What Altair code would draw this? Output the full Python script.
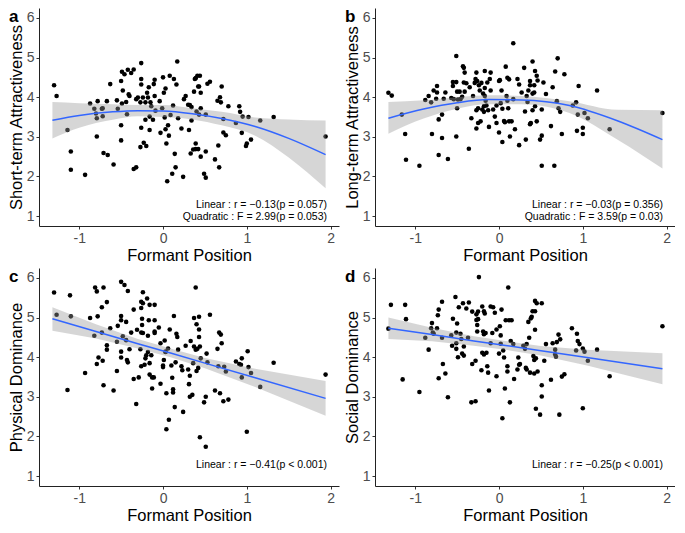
import altair as alt
import pandas as pd

FONT = "Liberation Sans"
W, H = 300, 218
XDOM = [-1.48, 2.10]
YDOM = [0.75, 6.25]
X_TICKS = [-1, 0, 1, 2]
Y_TICKS = [1, 2, 3, 4, 5, 6]
X_TITLE = "Formant Position"

# ---------- panel a : Short-term Attractiveness (x, y) ----------
a_points = [
    (-1.30, 4.30), (-1.27, 4.03), (-1.14, 3.17), (-1.10, 2.63), (-1.10, 2.17), (-0.93, 2.04),
    (-0.87, 3.84), (-0.82, 3.71), (-0.78, 3.90), (-0.80, 3.59), (-0.79, 3.47), (-0.79, 3.01),
    (-0.73, 3.71), (-0.72, 3.52), (-0.72, 3.72), (-0.71, 2.59), (-0.67, 3.90), (-0.66, 2.54),
    (-0.63, 4.33), (-0.59, 2.30), (-0.55, 3.92), (-0.54, 3.71), (-0.50, 4.41), (-0.49, 4.64),
    (-0.48, 4.17), (-0.49, 3.84), (-0.50, 3.29), (-0.50, 2.91), (-0.46, 4.58), (-0.44, 3.88),
    (-0.43, 3.57), (-0.42, 4.69), (-0.41, 4.07), (-0.40, 4.03), (-0.38, 4.61), (-0.35, 4.70),
    (-0.35, 2.19), (-0.32, 2.23), (-0.32, 3.95), (-0.30, 3.99), (-0.27, 3.87), (-0.26, 4.86),
    (-0.26, 4.46), (-0.26, 4.32), (-0.26, 3.23), (-0.27, 2.74), (-0.24, 3.99), (-0.23, 2.85),
    (-0.21, 3.87), (-0.21, 3.43), (-0.20, 2.77), (-0.19, 4.11), (-0.18, 3.99), (-0.17, 4.25),
    (-0.16, 3.51), (-0.16, 3.17), (-0.15, 3.87), (-0.14, 3.77), (-0.12, 3.43), (-0.11, 4.33),
    (-0.10, 4.44), (-0.10, 4.03), (-0.09, 3.66), (-0.04, 3.90), (-0.03, 3.10), (-0.01, 3.72),
    (0.00, 4.50), (0.01, 4.11), (0.02, 3.49), (0.03, 3.19), (0.03, 4.22), (0.04, 2.83),
    (0.05, 1.88), (0.06, 3.29), (0.07, 3.03), (0.08, 4.54), (0.09, 3.55), (0.12, 3.79),
    (0.13, 4.46), (0.11, 2.07), (0.14, 2.57), (0.15, 2.23), (0.16, 4.32), (0.17, 4.90),
    (0.18, 3.47), (0.22, 3.21), (0.24, 1.99), (0.25, 3.95), (0.27, 4.03), (0.30, 3.81),
    (0.31, 3.17), (0.32, 3.80), (0.33, 2.58), (0.34, 3.75), (0.34, 3.41), (0.36, 2.68),
    (0.37, 4.14), (0.38, 4.46), (0.39, 4.48), (0.39, 2.83), (0.39, 2.69), (0.40, 3.64),
    (0.41, 4.54), (0.42, 4.27), (0.42, 2.69), (0.44, 4.54), (0.43, 4.27), (0.43, 3.56),
    (0.45, 2.50), (0.45, 4.11), (0.45, 3.72), (0.49, 2.07), (0.51, 3.56), (0.51, 2.63),
    (0.51, 1.97), (0.53, 4.34), (0.56, 4.39), (0.62, 2.43), (0.65, 3.91), (0.66, 2.78),
    (0.67, 2.23), (0.68, 4.00), (0.69, 3.87), (0.70, 4.27), (0.72, 3.11), (0.72, 3.45),
    (0.75, 3.04), (0.78, 3.77), (0.87, 3.35), (0.91, 3.77), (0.92, 3.63), (0.94, 3.10),
    (0.95, 3.51), (0.99, 2.77), (1.00, 2.83), (1.02, 3.50), (1.05, 2.93), (1.16, 3.41),
    (1.32, 3.50), (1.94, 3.01),
]

# ---------- panel b : Long-term Attractiveness ----------
b_points = [
    (-1.32, 4.11), (-1.28, 4.04), (-1.16, 3.56), (-1.12, 3.07), (-1.11, 2.42), (-0.95, 2.27),
    (-0.88, 3.93), (-0.84, 4.03), (-0.81, 3.87), (-0.80, 3.07), (-0.78, 4.17), (-0.75, 3.96),
    (-0.74, 4.28), (-0.74, 4.12), (-0.72, 3.44), (-0.72, 2.54), (-0.68, 3.56), (-0.68, 2.97),
    (-0.66, 3.96), (-0.64, 4.12), (-0.61, 2.44), (-0.57, 3.98), (-0.55, 4.38), (-0.55, 4.28),
    (-0.54, 3.95), (-0.51, 5.04), (-0.51, 4.38), (-0.51, 3.01), (-0.50, 4.14), (-0.50, 3.72),
    (-0.49, 3.94), (-0.47, 4.14), (-0.46, 3.95), (-0.44, 4.01), (-0.43, 4.78), (-0.42, 4.74),
    (-0.42, 4.37), (-0.41, 4.62), (-0.41, 4.14), (-0.39, 4.35), (-0.36, 2.70), (-0.35, 4.25),
    (-0.33, 3.47), (-0.31, 4.03), (-0.29, 4.36), (-0.28, 4.46), (-0.27, 4.62), (-0.27, 3.67),
    (-0.27, 3.21), (-0.26, 4.41), (-0.25, 3.72), (-0.25, 3.35), (-0.24, 4.30), (-0.23, 4.17),
    (-0.22, 3.39), (-0.21, 4.36), (-0.20, 3.69), (-0.19, 4.09), (-0.18, 3.77), (-0.18, 3.63),
    (-0.17, 4.66), (-0.17, 4.23), (-0.17, 4.03), (-0.16, 3.91), (-0.15, 3.79), (-0.14, 4.37),
    (-0.13, 3.67), (-0.12, 3.25), (-0.11, 4.46), (-0.10, 4.62), (-0.10, 4.17), (-0.07, 3.69),
    (-0.05, 3.51), (-0.03, 3.35), (-0.03, 3.79), (0.00, 4.41), (0.00, 3.11), (0.01, 4.43),
    (0.02, 3.85), (0.03, 4.17), (0.04, 3.71), (0.04, 2.87), (0.06, 3.40), (0.07, 3.37),
    (0.08, 4.77), (0.09, 4.03), (0.10, 3.91), (0.10, 4.49), (0.11, 3.72), (0.12, 3.39),
    (0.12, 4.45), (0.13, 3.01), (0.15, 3.39), (0.17, 5.36), (0.17, 3.95), (0.19, 3.19),
    (0.22, 4.46), (0.24, 4.32), (0.24, 2.79), (0.27, 4.12), (0.30, 4.74), (0.31, 3.64),
    (0.32, 2.93), (0.33, 4.03), (0.34, 3.88), (0.35, 4.17), (0.37, 4.41), (0.37, 3.32),
    (0.37, 4.30), (0.38, 3.35), (0.40, 3.67), (0.40, 4.09), (0.40, 4.90), (0.42, 4.30),
    (0.42, 4.12), (0.43, 3.77), (0.43, 4.66), (0.45, 3.39), (0.45, 4.54), (0.46, 4.42),
    (0.49, 2.93), (0.51, 2.27), (0.51, 3.69), (0.51, 3.03), (0.53, 4.37), (0.56, 4.08),
    (0.62, 3.27), (0.64, 4.25), (0.66, 2.27), (0.67, 4.65), (0.69, 3.90), (0.70, 4.98),
    (0.71, 3.72), (0.73, 3.63), (0.75, 3.07), (0.78, 4.58), (0.88, 3.79), (0.92, 3.87),
    (0.93, 3.15), (0.95, 4.28), (0.94, 3.56), (1.00, 3.07), (1.00, 3.23), (1.02, 3.60),
    (1.06, 3.47), (1.17, 4.17), (1.32, 3.19), (1.95, 3.60),
]

# ---------- panel c : Physical Dominance ----------
c_points = [
    (-1.30, 5.63), (-1.27, 5.07), (-1.14, 3.17), (-1.11, 5.56), (-1.10, 5.03), (-0.93, 3.60),
    (-0.87, 4.99), (-0.82, 4.54), (-0.81, 5.76), (-0.79, 5.66), (-0.78, 5.03), (-0.79, 3.83),
    (-0.77, 3.99), (-0.73, 5.26), (-0.73, 4.62), (-0.72, 3.91), (-0.71, 5.76), (-0.71, 3.29),
    (-0.67, 5.39), (-0.67, 4.30), (-0.67, 4.19), (-0.63, 4.73), (-0.59, 3.16), (-0.55, 3.65),
    (-0.55, 4.39), (-0.54, 4.79), (-0.50, 5.90), (-0.50, 5.04), (-0.50, 4.93), (-0.50, 4.14),
    (-0.50, 3.99), (-0.48, 4.53), (-0.46, 5.82), (-0.44, 4.89), (-0.44, 4.43), (-0.43, 3.93),
    (-0.42, 5.67), (-0.42, 3.87), (-0.40, 4.20), (-0.38, 4.62), (-0.35, 5.20), (-0.35, 3.45),
    (-0.32, 2.82), (-0.31, 4.69), (-0.29, 3.49), (-0.27, 4.20), (-0.26, 5.40), (-0.26, 5.24),
    (-0.26, 4.62), (-0.26, 3.77), (-0.25, 4.97), (-0.25, 4.81), (-0.24, 5.64), (-0.24, 5.36),
    (-0.24, 4.61), (-0.22, 3.81), (-0.21, 3.97), (-0.20, 4.05), (-0.19, 5.48), (-0.18, 4.13),
    (-0.18, 4.54), (-0.17, 4.93), (-0.16, 5.32), (-0.16, 3.56), (-0.16, 3.85), (-0.14, 4.05),
    (-0.13, 3.49), (-0.13, 3.21), (-0.11, 3.49), (-0.10, 4.65), (-0.10, 4.93), (-0.10, 5.32),
    (-0.10, 4.61), (-0.05, 4.75), (-0.03, 3.33), (-0.03, 4.35), (0.00, 3.79), (0.00, 3.75),
    (0.01, 3.93), (0.02, 4.42), (0.03, 4.14), (0.03, 4.13), (0.04, 2.18), (0.04, 3.09),
    (0.06, 4.22), (0.07, 2.42), (0.08, 4.70), (0.10, 3.79), (0.11, 3.48), (0.12, 3.19),
    (0.12, 3.11), (0.13, 5.04), (0.14, 2.74), (0.15, 3.87), (0.16, 4.59), (0.17, 4.51),
    (0.18, 4.19), (0.22, 3.77), (0.23, 3.67), (0.24, 2.62), (0.27, 4.29), (0.30, 3.69),
    (0.31, 3.32), (0.32, 3.53), (0.32, 3.00), (0.33, 4.41), (0.35, 3.05), (0.36, 3.85),
    (0.37, 4.99), (0.37, 4.27), (0.39, 4.19), (0.39, 5.76), (0.40, 4.83), (0.40, 3.65),
    (0.41, 4.21), (0.42, 3.73), (0.43, 4.70), (0.43, 5.02), (0.43, 4.51), (0.44, 4.27),
    (0.44, 1.98), (0.45, 3.97), (0.49, 2.86), (0.51, 3.00), (0.51, 1.74), (0.52, 4.09),
    (0.53, 3.87), (0.56, 5.07), (0.62, 3.16), (0.65, 4.21), (0.66, 3.77), (0.67, 4.62),
    (0.68, 3.09), (0.69, 4.57), (0.70, 4.35), (0.72, 2.89), (0.73, 3.76), (0.75, 3.64),
    (0.78, 2.93), (0.87, 3.89), (0.91, 3.83), (0.93, 3.81), (0.94, 3.97), (0.94, 3.49),
    (1.00, 2.12), (1.01, 4.15), (1.02, 3.75), (1.05, 3.60), (1.16, 3.25), (1.32, 3.86),
    (1.94, 3.56),
]

# ---------- panel d : Social Dominance ----------
d_points = [
    (-1.32, 4.72), (-1.29, 5.32), (-1.15, 3.44), (-1.12, 5.32), (-1.11, 4.96), (-0.95, 3.12),
    (-0.88, 4.49), (-0.84, 4.19), (-0.81, 4.73), (-0.80, 4.86), (-0.79, 4.62), (-0.78, 4.59),
    (-0.74, 4.73), (-0.73, 5.06), (-0.72, 5.20), (-0.72, 3.47), (-0.68, 5.40), (-0.68, 4.49),
    (-0.67, 3.83), (-0.64, 3.59), (-0.61, 2.99), (-0.57, 4.55), (-0.56, 4.29), (-0.55, 4.97),
    (-0.52, 5.52), (-0.51, 4.35), (-0.51, 4.21), (-0.51, 4.62), (-0.50, 4.85), (-0.49, 4.00),
    (-0.48, 5.26), (-0.46, 4.59), (-0.45, 4.46), (-0.44, 4.09), (-0.43, 5.36), (-0.42, 4.27),
    (-0.42, 4.04), (-0.39, 5.23), (-0.37, 4.49), (-0.36, 5.38), (-0.33, 2.86), (-0.32, 5.15),
    (-0.32, 3.83), (-0.28, 3.91), (-0.28, 2.89), (-0.27, 5.08), (-0.27, 4.94), (-0.26, 4.81),
    (-0.26, 4.65), (-0.25, 5.15), (-0.25, 4.96), (-0.24, 6.02), (-0.21, 3.67), (-0.20, 4.11),
    (-0.20, 5.28), (-0.19, 4.65), (-0.18, 5.16), (-0.18, 4.58), (-0.18, 4.07), (-0.17, 5.10),
    (-0.16, 4.61), (-0.15, 4.11), (-0.14, 3.77), (-0.13, 3.61), (-0.12, 3.16), (-0.10, 5.28),
    (-0.10, 4.35), (-0.08, 4.61), (-0.07, 5.26), (-0.05, 5.12), (-0.03, 3.52), (-0.03, 4.70),
    (0.00, 4.09), (0.01, 4.78), (0.02, 4.34), (0.02, 4.55), (0.03, 5.20), (0.04, 2.46),
    (0.05, 4.17), (0.06, 3.99), (0.07, 3.21), (0.08, 4.93), (0.10, 3.64), (0.10, 3.77),
    (0.11, 5.76), (0.12, 4.93), (0.13, 2.86), (0.14, 4.41), (0.15, 4.93), (0.17, 4.33),
    (0.18, 3.45), (0.22, 3.69), (0.23, 3.99), (0.24, 3.81), (0.25, 3.83), (0.29, 4.29),
    (0.31, 4.21), (0.32, 3.73), (0.33, 3.69), (0.33, 4.33), (0.35, 4.89), (0.36, 4.49),
    (0.37, 3.61), (0.38, 4.98), (0.39, 5.02), (0.40, 5.16), (0.41, 4.03), (0.42, 3.59),
    (0.42, 3.93), (0.43, 4.69), (0.43, 5.16), (0.43, 5.42), (0.44, 3.97), (0.44, 2.70),
    (0.45, 5.36), (0.46, 3.64), (0.49, 2.55), (0.51, 3.29), (0.51, 3.01), (0.51, 5.36),
    (0.54, 3.91), (0.56, 4.33), (0.62, 3.43), (0.64, 4.35), (0.67, 4.19), (0.67, 4.07),
    (0.68, 4.01), (0.69, 4.38), (0.71, 4.57), (0.72, 2.55), (0.73, 4.45), (0.75, 3.51),
    (0.78, 3.57), (0.87, 4.73), (0.92, 4.17), (0.93, 4.59), (0.94, 4.41), (0.96, 4.33),
    (1.00, 2.71), (1.00, 4.22), (1.02, 4.14), (1.06, 3.91), (1.17, 4.19), (1.32, 3.52),
    (1.95, 4.78),
]

# ---------- fitted curves and 95% bands ----------
a_fit_x = [-1.32, -1.0, -0.6, -0.3, 0.0, 0.35, 0.7, 1.1, 1.5, 1.94]
a_fit = [3.42, 3.54, 3.63, 3.66, 3.65, 3.58, 3.46, 3.26, 2.96, 2.55]
a_upper = [3.88, 3.85, 3.82, 3.80, 3.80, 3.72, 3.63, 3.49, 3.44, 3.41]
a_lower = [2.96, 3.23, 3.43, 3.52, 3.50, 3.44, 3.29, 3.03, 2.48, 1.70]

b_fit_x = [-1.32, -0.9, -0.5, -0.12, 0.27, 0.84, 1.42, 1.95]
b_fit = [3.47, 3.70, 3.86, 3.94, 3.93, 3.79, 3.40, 2.93]
b_upper = [3.88, 3.92, 4.00, 4.05, 4.03, 3.90, 3.68, 3.67]
b_lower = [3.08, 3.46, 3.71, 3.82, 3.82, 3.60, 2.92, 2.20]

c_fit_x = [-1.32, -0.8, -0.3, 0.1, 0.5, 1.1, 1.94]
c_fit = [4.97, 4.65, 4.34, 4.10, 3.85, 3.48, 2.96]
c_upper = [5.26, 4.83, 4.46, 4.21, 3.98, 3.71, 3.40]
c_lower = [4.67, 4.47, 4.22, 3.99, 3.72, 3.25, 2.52]

d_fit_x = [-1.32, -0.8, -0.3, 0.1, 0.5, 1.05, 1.95]
d_fit = [4.73, 4.57, 4.41, 4.29, 4.16, 3.99, 3.71]
d_upper = [5.00, 4.74, 4.53, 4.40, 4.28, 4.19, 4.10]
d_lower = [4.46, 4.40, 4.29, 4.18, 4.04, 3.79, 3.32]

a_notes = ["Linear : r = \u22120.13(p = 0.057)", "Quadratic : F = 2.99(p = 0.053)"]
b_notes = ["Linear : r = \u22120.03(p = 0.356)", "Quadratic : F = 3.59(p = 0.03)"]
c_notes = ["Linear : r = \u22120.41(p < 0.001)"]
d_notes = ["Linear : r = \u22120.25(p < 0.001)"]


def panel(points, fx, fy, lo, hi, ytitle, letter, notes, interp):
    pts = pd.DataFrame(points, columns=["x", "y"])
    fit = pd.DataFrame({"x": fx, "fit": fy, "lo": lo, "hi": hi})
    xs = alt.Scale(domain=XDOM, nice=False, zero=False)
    ys = alt.Scale(domain=YDOM, nice=False, zero=False)
    xax = alt.Axis(values=X_TICKS, title=X_TITLE,
                   labelExpr="replace(datum.label, '\u2212', '-')")
    yax = alt.Axis(values=Y_TICKS, title=ytitle)

    pts_layer = alt.Chart(pts).mark_circle(size=21, color="black", opacity=1).encode(
        x=alt.X("x:Q", scale=xs, axis=xax),
        y=alt.Y("y:Q", scale=ys, axis=yax),
    )
    band = alt.Chart(fit).mark_area(color="#999999", opacity=0.4, interpolate=interp).encode(
        x=alt.X("x:Q", scale=xs, axis=xax),
        y=alt.Y("lo:Q", scale=ys, axis=yax),
        y2="hi:Q",
    )
    line = alt.Chart(fit).mark_line(color="#3366FF", strokeWidth=1.5, interpolate=interp).encode(
        x=alt.X("x:Q", scale=xs, axis=xax),
        y=alt.Y("fit:Q", scale=ys, axis=yax),
    )
    lab = alt.Chart(pd.DataFrame({"t": [letter]})).mark_text(
        align="left", baseline="middle", fontSize=17, fontWeight="bold",
        font=FONT, color="black",
    ).encode(text="t:N", x=alt.value(-30), y=alt.value(9))

    n = len(notes)
    note_df = pd.DataFrame({"t": notes, "k": list(range(n))})
    yoffs = [H - 21, H - 9] if n == 2 else [H - 21]
    note_df["py"] = yoffs
    note = alt.Chart(note_df).mark_text(
        align="right", baseline="middle", fontSize=10.5, font=FONT, color="black",
    ).encode(text="t:N", x=alt.value(W - 12), y=alt.Y("py:Q", scale=None))

    return alt.layer(pts_layer, band, line, lab, note).properties(width=W, height=H)


pa = panel(a_points, a_fit_x, a_fit, a_lower, a_upper, "Short-term Attractiveness", "a", a_notes, "monotone")
pb = panel(b_points, b_fit_x, b_fit, b_lower, b_upper, "Long-term Attractiveness", "b", b_notes, "monotone")
pc = panel(c_points, c_fit_x, c_fit, c_lower, c_upper, "Physical Dominance", "c", c_notes, "linear")
pd_ = panel(d_points, d_fit_x, d_fit, d_lower, d_upper, "Social Dominance", "d", d_notes, "linear")

chart = alt.vconcat(
    alt.hconcat(pa, pb, spacing=5),
    alt.hconcat(pc, pd_, spacing=5),
    spacing=4,
    padding=0,
).configure_view(stroke=None).configure_axis(
    grid=False,
    domainColor="#222222",
    domainWidth=1,
    tickColor="#333333",
    tickSize=3,
    labelFont=FONT,
    labelFontSize=14,
    labelColor="#4D4D4D",
    labelPadding=2,
    titleFont=FONT,
    titleFontSize=16.5,
    titleFontWeight="normal",
    titleColor="black",
    titlePadding=2,
).configure_text(font=FONT)

chart.save("out.html", embed_options={"renderer": "svg", "actions": False})
